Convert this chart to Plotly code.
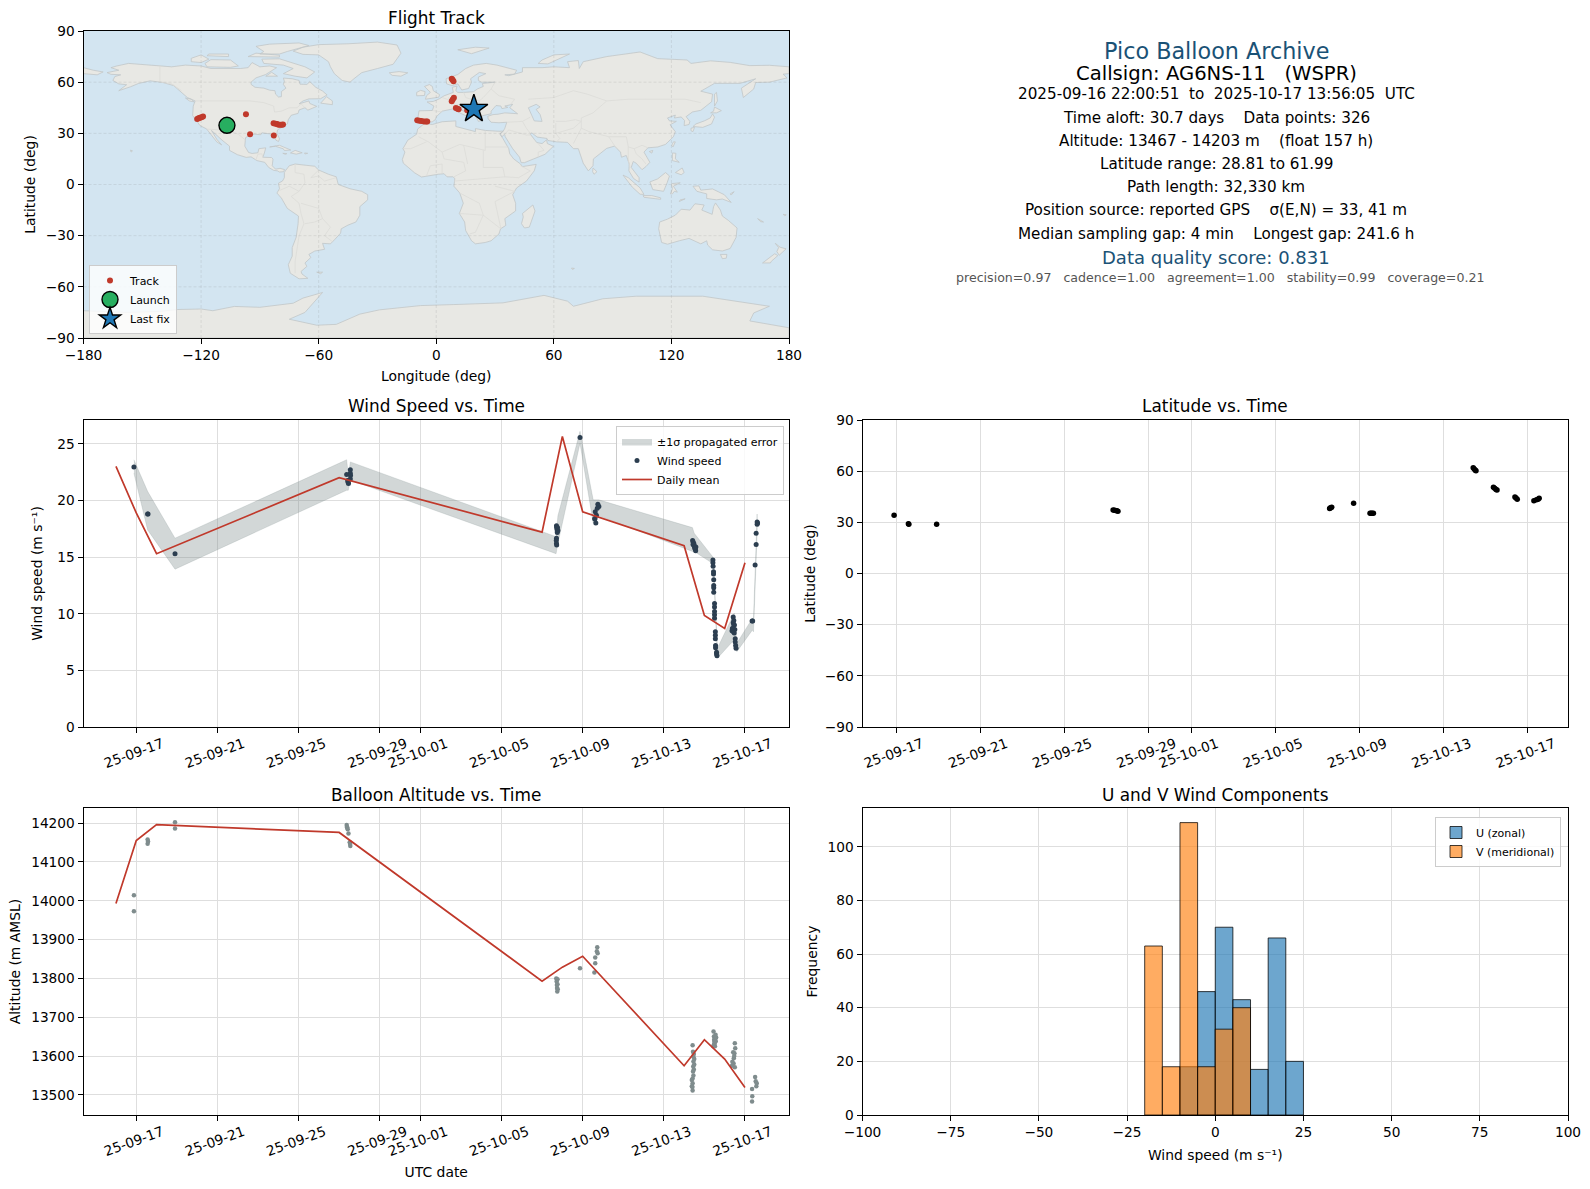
# Pico balloon flight summary, six panel figure
import pandas as pd
import plotly.graph_objects as go
from plotly.subplots import make_subplots

W, H = 1590, 1189
FONT = "DejaVu Sans"
RED = "#c0392b"
SLATE = "#2c3e50"
TITLE_BLUE = "#1a5276"

# ---- flight track (lon, lat)
track_lon = [-122, -121.3, -120.6, -119.8, -119, -97.1, -95, -82.9, -83, -82, -81.2, -80.5, -79.6, -78.8, -78.2,
             -9.7, -8.6, -7.5, -6.2, -5.2, -4.6, 7.9, 8.3, 8.8, 7.9, 8.4, 9, 10, 10.8, 11.4, 15.8, 16.6]
track_lat = [38.4, 38.8, 39.2, 39.5, 39.8, 41.2, 29.4, 28.8, 35.9, 35.6, 35.4, 35.1, 35, 35.1, 35.2,
             37.6, 37.4, 37.2, 37, 36.9, 36.9, 62, 61.4, 60.6, 48.8, 49.8, 50.8, 44.8, 44.4, 44.1, 43.5, 43.7]
launch_lon, launch_lat = [-106.8], [34.7]
last_lon, last_lat = [19.2], [44.3]

# ---- land outlines
north_america = [(-168, 65.6), (-164, 66.5), (-162, 67), (-166, 68.5), (-163, 69.5), (-157, 71), (-150, 70.5), (-141, 69.7),
                 (-135, 69), (-128, 70), (-120, 69.5), (-115, 68), (-108, 68), (-100, 68), (-96, 68.5), (-94, 71.5), (-90, 69),
                 (-85, 69.5), (-81.5, 68.5), (-85, 66), (-87, 64.5), (-92, 62.5), (-94.5, 60), (-94.5, 58.7), (-92.5, 57),
                 (-88, 56.5), (-85, 55.3), (-82.3, 55), (-82, 53), (-80.5, 51.3), (-79, 51.5), (-79, 54.5), (-76.7, 56.5),
                 (-78, 58.7), (-77.5, 60.5), (-78, 62.4), (-73.5, 62), (-70, 61), (-69.5, 58.8), (-66, 58.7), (-64.5, 60.3),
                 (-61.5, 57), (-58, 54.8), (-55.7, 52.5), (-59, 50.3), (-65, 50.2), (-68, 49), (-70, 47.3), (-65, 49),
                 (-64.5, 47.5), (-61, 45.8), (-65.5, 43.6), (-67, 45), (-70, 43.7), (-70.5, 41.7), (-74, 40.6), (-75.5, 38),
                 (-76, 35.5), (-78, 33.9), (-81, 32), (-81.3, 30), (-80, 26.8), (-80.5, 25.2), (-81.8, 26), (-83, 29),
                 (-85, 29.7), (-89, 30.3), (-89.5, 29.2), (-94, 29.6), (-97.3, 27.5), (-97.7, 22.5), (-95.8, 18.8), (-94, 18.2),
                 (-91, 18.6), (-90.5, 21), (-87, 21.5), (-87.7, 18.5), (-88.5, 16), (-84, 15.8), (-83.3, 14.9), (-83.7, 11),
                 (-82, 9), (-79.7, 9.5), (-77.3, 8.7), (-78, 7.5), (-80, 7.3), (-81, 8), (-83, 8.3), (-85.5, 10), (-87.5, 13),
                 (-91.5, 14), (-94.5, 16.2), (-97, 15.9), (-101.5, 17.5), (-105.5, 20), (-105.5, 22.5), (-109.3, 26),
                 (-112.5, 29.5), (-114.7, 31.7), (-112, 26.5), (-109.5, 23.2), (-112, 25), (-115, 29.5), (-117.2, 32.6),
                 (-120.5, 34.5), (-122.5, 37.8), (-124.3, 40.4), (-124, 46), (-123, 49), (-127, 51), (-130.5, 54.5), (-134, 58),
                 (-139.5, 59.8), (-146, 60.8), (-152, 59.2), (-156, 57.3), (-162, 55), (-158, 58.5), (-162, 59), (-165, 61),
                 (-164, 63.3), (-161, 64.3), (-166, 64.6)]
greenland = [(-73, 78.2), (-68, 80.5), (-60, 82), (-45, 82.5), (-30, 83.5), (-20, 81.8), (-18, 77), (-20, 74), (-22, 70.5),
             (-30, 68), (-38, 65.6), (-42, 62), (-44, 60), (-48, 61), (-52, 65), (-54, 69), (-55, 72), (-60, 76), (-68, 76.3)]
south_america = [(-77, 8), (-75, 11), (-72, 12), (-68, 11.5), (-62, 10.7), (-60, 8.5), (-55, 6), (-51, 4.5), (-50, 0), (-44, -2.5),
                 (-38, -4), (-35, -6), (-35, -9), (-39, -13), (-39, -18), (-41, -22), (-45, -23.8), (-48.5, -26), (-48.8, -28.5),
                 (-52, -32.5), (-54, -34.8), (-58, -34.5), (-57, -38), (-62, -39), (-65, -41), (-64, -42.8), (-67, -46), (-66, -48),
                 (-69, -51), (-68.5, -52.5), (-65.5, -55), (-70, -55.3), (-74.5, -52), (-75.5, -47), (-73.5, -42), (-73.5, -37),
                 (-71.5, -31), (-70.5, -23), (-70.3, -18.5), (-76, -14), (-79, -8), (-81.3, -5), (-80, -2.5), (-80.5, 0.8),
                 (-78.5, 2), (-77.5, 4), (-77.5, 7)]
africa = [(-6, 35.8), (-2, 35.2), (3, 36.8), (10, 37.3), (10, 34), (15, 32.3), (20, 31), (20, 32.8), (25, 31.7), (32, 31.2),
          (34.2, 31.3), (32.5, 29.5), (34, 27), (37, 21), (37.5, 18), (39.5, 15), (43, 12), (44, 10.5), (51, 11.8), (50, 8), (46, 2),
          (41, -2), (39, -6), (40.5, -11), (40.5, -15.5), (35, -20), (35.5, -24), (32.8, -26), (32, -29), (28, -33), (25, -34),
          (20, -34.8), (18, -33), (15, -27), (14.5, -22), (11.8, -17), (13.8, -11), (12, -5), (9, -1), (9.5, 3.5), (8.5, 4.5),
          (5.5, 4.5), (4, 6.3), (1, 6), (-4, 5.2), (-7.5, 4.4), (-11, 6.8), (-13.5, 9.5), (-16.8, 12.5), (-17.3, 14.7), (-16, 19),
          (-17, 21), (-14.5, 26), (-10, 29.5), (-9.5, 32.5)]
eurasia = [(-9, 37), (-9.4, 38.8), (-8.8, 43.2), (-2, 43.4), (-1.2, 46), (-4.7, 48.4), (-1.5, 48.7), (1.5, 50.2), (4, 52), (7, 53.5),
           (8.7, 54), (8.2, 57), (10.6, 57.7), (10, 55), (11, 54), (14, 54), (19, 54.4), (21, 56), (24, 57.5), (23.5, 59.2), (30, 60),
           (23, 60), (21.5, 61), (21.5, 63), (25.3, 65), (22, 65.7), (17.5, 62), (18, 60), (16.5, 56.3), (13, 55.4), (11, 59), (8, 58),
           (5.3, 59), (5, 62), (11, 64.5), (15, 68), (19, 70), (25.5, 71), (31, 70), (41, 67), (40, 64.7), (35, 64.3), (37, 63.8),
           (44, 66), (44, 68.5), (54, 68.5), (60, 69), (68, 68.5), (67, 72), (72.5, 72.7), (73, 68), (75, 72), (81, 73.5), (87, 75),
           (104, 77.7), (113, 73.8), (128, 73), (130, 71), (140, 72.5), (150, 71.6), (160, 69.7), (170, 69.9), (180, 69), (180, 65),
           (177, 64.7), (179, 62.5), (170, 60), (163, 59.8), (162, 56), (156.7, 51), (155.7, 56.5), (163, 62), (155, 59.3), (142, 59.3),
           (135, 54.7), (141, 53), (140.5, 48.5), (135, 43.5), (130.7, 42.5), (127.5, 39.8), (129.4, 37), (129, 35.2), (126.5, 34.5),
           (126.7, 37.5), (125, 39.6), (121.5, 39), (122, 40.7), (118, 39), (119, 37.3), (122.5, 37), (119.3, 35), (122, 31), (121, 28),
           (117, 23.5), (113, 22), (108, 21.5), (106, 19), (109, 13), (107, 10.5), (105, 8.7), (102, 12.5), (100.5, 13.5), (99.5, 10),
           (103.5, 4), (103.5, 1.4), (100.7, 3.5), (98.3, 8), (98.5, 12), (97, 17), (94.5, 16), (94, 19), (91, 22.5), (87, 21.2),
           (80.2, 15), (80, 11), (77.6, 8), (75, 12.5), (72.8, 19), (72.5, 21), (70, 21), (67, 24.7), (61.5, 25), (57, 25.8), (56.5, 27),
           (51.5, 27.8), (48.7, 30.3), (48, 29.5), (50, 26.5), (51.3, 24.6), (54, 24), (56.3, 26.2), (56.7, 24), (59.8, 22.4),
           (55.5, 17.7), (52, 16), (45, 12.8), (43.3, 12.8), (42.5, 16), (39, 21), (35.2, 28), (34.9, 29.5), (33.5, 28), (32.6, 29.9),
           (34.2, 31.3), (35, 33), (36, 36.5), (32, 36.2), (28, 36.5), (26.5, 38.5), (26.3, 40), (29, 41), (31.5, 41.2), (35, 42),
           (41.5, 41.5), (37.5, 45), (39, 47), (35, 46), (36.5, 45.2), (33.5, 44.5), (33, 46), (30.5, 46.3), (28, 43), (28, 41.5),
           (26, 40.8), (23.5, 40.3), (23, 37.5), (21.5, 37), (19.4, 41.5), (19, 42.4), (14, 45.2), (12.3, 45.3), (12.5, 44), (16, 41.8),
           (18.5, 40), (16.7, 39.8), (16, 38), (15.8, 40), (12.3, 41.8), (8.8, 44.4), (5, 43.3), (3, 43), (0.2, 39.9), (-0.5, 38),
           (-2, 36.8), (-5.5, 36), (-7, 37)]
australia = [(114, -22), (113.5, -26), (115, -34), (118, -35), (124, -33), (129, -31.6), (135, -34.8), (138, -33), (138.5, -35.5),
             (141, -38.3), (146, -39), (150, -37.5), (153, -31), (153.5, -25.5), (149, -21), (146, -18.5), (145, -15), (142.5, -10.8),
             (141.5, -13), (140.8, -17.5), (135.5, -15), (136.7, -12), (132, -11.3), (129.5, -15), (125, -14.5), (122, -18), (118, -20.3)]
antarctica = [(-180, -74), (-158, -75), (-141, -74.4), (-132, -73.3), (-120, -73), (-114, -74), (-103, -71.5), (-90, -72), (-73, -69.6),
              (-68, -66.6), (-58, -63.3), (-67, -75), (-75, -79), (-61, -82.5), (-51, -82), (-39, -76), (-29, -73.5), (-13, -71.5),
              (-8, -71), (9, -70.4), (34, -69.4), (55, -65), (67, -68.4), (70, -71.4), (85, -67), (102, -65.5), (136, -65.5), (170, -71.4),
              (162, -75.3), (160, -80), (178, -84), (180, -84), (180, -90), (-180, -90)]
islands = [
    [(-180, 68.5), (-175, 67), (-170, 66), (-173, 64.3), (-180, 65)],
    [(-62, 66), (-66, 62.5), (-72, 63.5), (-78, 65), (-73, 68), (-78, 70), (-88, 71), (-89, 73.5), (-80, 73.7), (-72, 71), (-67, 69)],
    [(-117, 69), (-105, 68.7), (-101, 69.5), (-105, 73), (-115, 73.2), (-118, 71)],
    [(-90, 76.5), (-80, 76.5), (-76, 78), (-65, 81.5), (-70, 83), (-85, 82.3), (-92, 81), (-88, 78)],
    [(-125, 72), (-120, 71.5), (-116, 73.5), (-120, 76), (-125, 74)],
    [(-96, 75), (-80, 74.7), (-80, 75.8), (-92, 77)],
    [(-117, 75.5), (-106, 75), (-106, 76.5), (-116, 76.5)],
    [(-87, 63.5), (-81, 63.5), (-84, 65.8)],
    [(-59, 47.7), (-53, 46.8), (-53, 49), (-56, 51.5)],
    [(-128, 50.7), (-125, 50), (-123.5, 48.4), (-126, 49)],
    [(-85, 22), (-80, 23), (-74.2, 20.2), (-77.5, 19.9), (-78, 20.9), (-82, 22.4)],
    [(-74.4, 18.5), (-72, 20), (-68.4, 18.6), (-71.5, 17.8)],
    [(-78.3, 18.3), (-76.2, 18.1), (-77, 17.7)],
    [(-67.2, 18.5), (-65.6, 18.3), (-67, 17.9)],
    [(-156, 20.2), (-155, 19.7), (-155.7, 19)],
    [(-61, -51.4), (-58, -51.4), (-59, -52.3)],
    [(49.3, -12), (50.4, -15.5), (47.5, -25), (45, -25.5), (43.5, -23), (44.4, -19), (44, -17), (48, -13.5)],
    [(-5.5, 50), (1.3, 51.2), (1.7, 52.7), (-1.5, 55), (-2, 57.5), (-3.5, 58.6), (-6, 57.5), (-3, 54), (-5, 52)],
    [(-10, 52), (-6, 52.2), (-5.7, 54.5), (-8, 55.2), (-10, 54)],
    [(-24, 65.5), (-19, 66.2), (-14.5, 65.5), (-18, 63.5), (-22.5, 64)],
    [(11, 79), (20, 80.5), (27, 80), (18, 76.7)],
    [(52, 71), (57, 70.7), (68, 76.5), (60, 76), (54, 73)],
    [(131, 34), (136, 33.5), (140.5, 35.5), (142, 39.5), (141, 41.4), (139.8, 39), (136.8, 37.3), (132.5, 35.5)],
    [(140, 42), (143, 42), (145.5, 43.3), (142, 45.4), (141.5, 43)],
    [(130, 33), (131.8, 33.5), (131, 31), (130, 31.5)],
    [(142, 46), (143.5, 49), (143, 54), (142, 53), (142, 48)],
    [(120.2, 23), (121, 25), (122, 25), (120.8, 22)],
    [(108.7, 19.3), (110.5, 20), (110, 18.4)],
    [(80, 9.7), (82, 7.5), (80.5, 6), (79.8, 7.5)],
    [(120.5, 18.5), (122.3, 18.3), (122, 15), (124, 13), (120.5, 14)],
    [(122, 7), (125.5, 9.7), (126.5, 7), (125, 5.7)],
    [(109, 1.5), (113, 3.3), (117, 7), (119, 5), (117.8, 1), (116, -4), (110.5, -3)],
    [(95.3, 5.5), (98, 4), (104, -2), (106, -5.8), (104, -5.7), (100, -1.5)],
    [(105.5, -6.5), (110, -6.5), (114.5, -7.8), (114.5, -8.7), (106, -7.5)],
    [(119.5, -5.5), (120.5, -2.5), (120, 0.5), (124.5, 1), (121, -1), (123, -4.5), (121.5, -4), (120.5, -5.5)],
    [(131, -1), (134, -0.8), (135, -3.3), (141, -2.6), (147, -6), (150.5, -10.5), (146, -8.5), (143, -9), (138, -8.2), (138, -5.5), (133, -4)],
    [(124, -10), (127, -8.4), (124.5, -9)],
    [(150, -5.5), (152, -4.2), (150.5, -6.2)],
    [(145, -41), (148.3, -41), (148, -43.2), (146, -43.5)],
    [(173, -34.5), (175.5, -36.8), (178.5, -37.7), (176.5, -40), (175, -41.5), (173.8, -39.3), (174.7, -37)],
    [(172.7, -40.6), (174.3, -41.7), (171, -45), (170.5, -46), (166.5, -46), (170, -43)],
    [(164, -20), (167, -22), (165.5, -21.8)],
    [(177, -17.5), (178.6, -17.8), (177.8, -18.3)],
    [(69, -49), (70.5, -49.2), (69.5, -49.8)],
]
land_outlines = [north_america, greenland, south_america, africa, eurasia, australia, antarctica] + islands
caspian = [(47, 45), (51, 47), (53, 45.5), (51, 44), (53, 41), (54, 37), (50, 37.3), (49, 40), (47.5, 43)]
borders = [
    [(-123, 49), (-95, 49), (-88, 48), (-83, 46), (-82.5, 42.5), (-79, 43), (-75, 45), (-71, 45), (-69, 47.3), (-67, 45)],
    [(-141, 69.7), (-141, 60.2), (-135, 59), (-130, 55)],
    [(-117, 32.5), (-108, 31.5), (-106.5, 31.7), (-101, 29.5), (-97.3, 26)],
    [(-92, 14.5), (-91, 17.8), (-89, 18), (-88.5, 16)],
    [(-72, 12), (-72, 7), (-67.5, 6), (-67, 1), (-70, -4), (-74, -7), (-70, -11), (-69, -17), (-67.5, -23), (-70, -30), (-72, -45), (-72, -52)],
    [(-60, 8.5), (-64, 4), (-60, 5), (-57, 2), (-51, 4)],
    [(-58, -20), (-54, -25), (-57, -30), (-53, -33.5)],
    [(-69, -11), (-60, -14), (-58, -20), (-62, -22), (-67, -23)],
    [(-80, -3.5), (-75, -1), (-70, -4)],
    [(-9, 28), (-4, 25), (3, 19), (12, 23.5), (25, 20), (25, 31.5)],
    [(25, 22), (37, 22)],
    [(-17, 21), (-13, 21), (-5, 25)],
    [(3, 19), (4, 15), (14, 13), (15, 8), (9, 4.5)],
    [(14, 23), (16, 12)],
    [(24, 20), (24, 10), (34, 10), (35, 4.5), (42, 4), (48, 8), (43, 11)],
    [(9, 2), (18, 3), (30, 4), (35, 4.5)],
    [(12, -5), (22, -11), (24, -18), (12, -17)],
    [(30, -1), (40, -4), (30, -10), (33, -26), (24, -18), (20, -28), (17, -29)],
    [(-5, 5), (-3, 11), (3, 12), (3, 6.5)],
    [(30, 60), (28, 56), (24, 51), (22, 49), (19, 49.5), (15, 51), (14, 54)],
    [(6, 51), (8, 49), (7, 47.5), (10, 47), (14, 46.5), (22, 48)],
    [(-1.5, 43.3), (3, 42.5)],
    [(3, 51), (8, 49)],
    [(28, 56), (32, 52), (40, 50), (38, 47)],
    [(47, 50), (60, 51), (70, 55), (77, 53), (87, 49), (98, 50), (107, 50), (118, 50), (127, 50), (135, 48)],
    [(87, 49), (80, 42), (74, 39), (74, 33), (78, 31), (88, 28), (97, 28), (98, 22), (101, 21), (105, 23), (108, 21.5)],
    [(61, 37), (66, 37), (71, 38), (74, 37)],
    [(61, 36), (61, 30), (63, 27), (61.5, 25)],
    [(61, 30), (70, 33), (74, 37)],
    [(74, 33), (70, 24)],
    [(44, 37), (48, 39.5)],
    [(44, 37), (46, 33), (48, 30)],
    [(36, 36.5), (42, 37), (44, 37)],
    [(35, 29.5), (37, 32), (46, 29), (48, 29)],
    [(52, 24), (55, 20), (52, 19), (52, 16)],
    [(92, 21), (89, 26), (88, 28)],
    [(98, 22), (98, 14), (99, 10)],
    [(101, 21), (102, 18), (105, 15), (107, 12)],
]

# ---- time series, days counted from 2025-09-17 00:00
TIME_ZERO = "2025-09-17"
wind_days = [-0.115, 0.56, 0.58, 1.91, 10.37, 10.55, 10.55, 10.56, 10.55, 10.42, 10.44, 10.46,
             20.71, 20.72, 20.74, 20.75, 20.75, 20.71, 20.7, 20.71, 20.72, 20.76, 20.78, 21.87,
             22.62, 22.68, 22.6, 22.6, 22.65, 22.75, 22.8, 22.72,
             27.42, 27.45, 27.47, 27.5, 27.52, 27.55, 27.57, 27.48, 27.53, 27.44, 27.58,
             28.42, 28.42, 28.43, 28.45, 28.45, 28.46, 28.46, 28.46, 28.46, 28.5, 28.5, 28.5, 28.5, 28.5,
             28.54, 28.54, 28.54, 28.55, 28.55, 28.6, 28.6, 28.62,
             29.42, 29.45, 29.42, 29.45, 29.4, 29.43, 29.47, 29.52, 29.52, 29.54, 29.56, 29.5, 29.48, 29.36, 29.38,
             30.35, 30.38, 30.5, 30.55, 30.55, 30.6, 30.6, 30.62]
wind_speed = [22.95, 18.8, 18.8, 15.3, 22.3, 22.7, 22.4, 22.2, 21.9, 21.75, 21.6, 21.5,
              17.76, 17.6, 17.46, 17.3, 17.17, 16.67, 16.46, 16.2, 16.07, 17.6, 17.35, 25.56,
              19, 18.7, 18.35, 18.4, 18, 19.66, 19.46, 19.3,
              16.46, 16.3, 16.14, 16, 15.87, 15.7, 15.55, 16.2, 15.8, 16.1, 15.9,
              14.75, 14.5, 14.2, 13.7, 13.5, 13, 12.5, 12.3, 11.9, 10.9, 10.6, 10.2, 9.9, 9.6,
              8.4, 8.1, 7.8, 7.2, 7, 6.6, 6.45, 6.3,
              9.7, 9.4, 9.2, 9, 8.7, 8.4, 8.3, 7.8, 7.5, 7.2, 6.95, 8.6, 9, 8.5, 8.7,
              9.36, 9.36, 14.3, 16.1, 17.1, 17.9, 18.1, 18.0]

# ±1 sigma envelope along the track
band_days = [-0.115, 0.56, 1.91, 10.37, 10.45, 10.55, 20.69, 20.78, 21.87, 22.52, 22.8, 27.41, 27.5, 28.4, 28.45, 28.64, 29.47, 29.6, 30.37, 30.42, 30.6]
band_hi = [23.59, 20.8, 16.67, 23.59, 22.2, 23.4, 16.8, 18.64, 26.1, 20.05, 20.05, 17.6, 17.1, 15.05, 14.6, 6.95, 10.04, 7.4, 9.6, 9.6, 18.8]
band_lo = [22.4, 17.4, 13.93, 20.9, 20.9, 21.8, 15.3, 16.2, 25.05, 18, 18.64, 15.5, 15.5, 14.45, 14, 6.07, 7.7, 6.65, 8.57, 8.4, 17.1]

daily_dates = ["2025-09-16", "2025-09-17", "2025-09-18", "2025-09-27", "2025-10-07", "2025-10-08", "2025-10-09",
               "2025-10-14", "2025-10-15", "2025-10-16", "2025-10-17"]
daily_wind = [23.0, 18.9, 15.3, 22.0, 17.2, 25.65, 19.0, 16.0, 9.85, 8.7, 14.5]
daily_alt = [13993, 14155, 14196, 14176, 13793, 13829, 13857, 13575, 13642, 13592, 13519]

alt_days = [-0.115, -0.115, 0.56, 0.56, 0.58, 1.91, 1.91, 10.37, 10.38, 10.4, 10.42, 10.46, 10.52, 10.55, 10.54,
            20.7, 20.72, 20.73, 20.74, 20.75, 20.76, 20.76, 20.77, 21.87, 22.62, 22.62, 22.58, 22.72, 22.7, 22.74,
            27.42, 27.44, 27.46, 27.46, 27.45, 27.44, 27.42, 27.42, 27.41, 27.42,
            27.48, 27.5, 27.5, 27.48, 27.46, 27.38, 27.38,
            28.45, 28.47, 28.48, 28.5, 28.52, 28.55, 28.53, 28.5, 28.48, 28.58, 28.56, 28.44,
            29.5, 29.52, 29.48, 29.45, 29.44, 29.5, 29.38, 29.36, 29.42, 29.47,
            30.35, 30.36, 30.35, 30.5, 30.53, 30.56, 30.58]
alt_m = [14014, 13973, 14158, 14147, 14153, 14202, 14186, 14195, 14190, 14189, 14184, 14173, 14151, 14141, 14146,
         13800, 13792, 13783, 13775, 13766, 13798, 13785, 13772, 13826, 13854, 13839, 13815, 13880, 13870, 13865,
         13628, 13611, 13598, 13586, 13573, 13560, 13542, 13530, 13520, 13511,
         13605, 13592, 13578, 13565, 13550, 13538, 13522,
         13663, 13650, 13642, 13633, 13625, 13655, 13645, 13638, 13630, 13648, 13638, 13625,
         13633, 13620, 13607, 13594, 13581, 13571, 13585, 13575, 13610, 13600,
         13515, 13496, 13483, 13546, 13535, 13522, 13530]

lat_days = [-0.1, 0.58, 0.6, 1.92, 10.3, 10.36, 10.42, 10.48, 10.53, 20.58, 20.62, 20.68, 21.72, 22.5, 22.55, 22.6, 22.66,
            27.4, 27.45, 27.5, 27.53, 28.36, 28.42, 28.48, 28.53, 29.38, 29.43, 29.49, 30.28, 30.4, 30.48, 30.53]
lat_deg = [34.1, 29.2, 28.9, 28.81, 37.2, 37.1, 37, 36.8, 36.5, 38.1, 38.5, 38.8, 41.2, 35.3, 35.3, 35.3, 35.3,
           61.99, 61.3, 60.6, 60.2, 50.6, 50, 49.3, 48.9, 44.8, 44.3, 43.6, 42.7, 43.2, 43.6, 44.1]

# ---- histogram, left bin edges in m/s and counts
u_edges = [-10, -5, 0, 5, 10, 15, 20]
u_counts = [18, 46, 70, 43, 17, 66, 20]
v_edges = [-20, -15, -10, -5, 0, 5]
v_counts = [63, 18, 109, 18, 32, 40]

# ---- axis ticks
date_ticks = ["2025-09-17", "2025-09-21", "2025-09-25", "2025-09-29", "2025-10-01", "2025-10-05", "2025-10-09", "2025-10-13", "2025-10-17"]
date_labels = ["25-09-17", "25-09-21", "25-09-25", "25-09-29", "25-10-01", "25-10-05", "25-10-09", "25-10-13", "25-10-17"]
lon_ticks = [-180, -120, -60, 0, 60, 120, 180]
lat_ticks = [-90, -60, -30, 0, 30, 60, 90]

# ---- text panel: text, centre x, centre y, size, colour
info_lines = [
    ("Pico Balloon Archive", 1216, 50.8, 22.3, TITLE_BLUE),
    ("Callsign: AG6NS-11   (WSPR)", 1216, 73, 19.6, "black"),
    ("2025-09-16 22:00:51  to  2025-10-17 13:56:05  UTC", 1216, 94.4, 15.2, "black"),
    ("Time aloft: 30.7 days    Data points: 326", 1216, 117.8, 15.2, "black"),
    ("Altitude: 13467 - 14203 m    (float 157 h)", 1216, 141, 15.2, "black"),
    ("Latitude range: 28.81 to 61.99", 1216, 163.5, 15.2, "black"),
    ("Path length: 32,330 km", 1216, 186.8, 15.2, "black"),
    ("Position source: reported GPS    σ(E,N) = 33, 41 m", 1216, 210, 15.2, "black"),
    ("Median sampling gap: 4 min    Longest gap: 241.6 h", 1216, 233.5, 15.2, "black"),
    ("Data quality score: 0.831", 1216, 257.9, 18, TITLE_BLUE),
    ("precision=0.97   cadence=1.00   agreement=1.00   stability=0.99   coverage=0.21", 1220, 278, 12.6, "#555555"),
]


def day_to_time(days):
    return pd.Timestamp(TIME_ZERO) + pd.to_timedelta(days, unit="D")


def join_paths(paths):
    xs, ys = [], []
    for path in paths:
        xs += [p[0] for p in path] + [path[0][0], None]
        ys += [p[1] for p in path] + [path[0][1], None]
    return xs, ys


def join_open(paths):
    xs, ys = [], []
    for path in paths:
        xs += [p[0] for p in path] + [None]
        ys += [p[1] for p in path] + [None]
    return xs, ys


fig = make_subplots(
    rows=3, cols=2,
    specs=[[{}, None], [{}, {}], [{}, {}]],
)
# row, col -> pixel box of each axes (left, right, top, bottom)
boxes = {
    (1, 1): (83.5, 789, 31, 338),
    (2, 1): (83.5, 789, 420, 727),
    (2, 2): (862.5, 1568, 420, 727),
    (3, 1): (83.5, 789, 808, 1115),
    (3, 2): (862.5, 1568, 808, 1115),
}
for (row, col), (left, right, top, bottom) in boxes.items():
    fig.update_xaxes(domain=[left / W, right / W], row=row, col=col)
    fig.update_yaxes(domain=[1 - bottom / H, 1 - top / H], row=row, col=col)

axis_style = dict(showline=True, mirror=True, linecolor="black", linewidth=1, ticks="outside", ticklen=5, tickcolor="black",
                  showgrid=True, gridcolor="#dedede", gridwidth=1, zeroline=False, automargin=False,
                  tickfont=dict(size=13.7), title_font=dict(size=13.9))
fig.update_xaxes(**axis_style)
fig.update_yaxes(**axis_style)

# map panel
land_x, land_y = join_paths(land_outlines)
fig.add_trace(go.Scatter(x=land_x, y=land_y, mode="lines", fill="toself", fillcolor="#e8e8e4",
                         line=dict(color="#c2c6c8", width=0.8), hoverinfo="skip", showlegend=False), row=1, col=1)
sea_x, sea_y = join_paths([caspian])
fig.add_trace(go.Scatter(x=sea_x, y=sea_y, mode="lines", fill="toself", fillcolor="#d3e5f1",
                         line=dict(color="#c2c6c8", width=0.8), hoverinfo="skip", showlegend=False), row=1, col=1)
border_x, border_y = join_open(borders)
fig.add_trace(go.Scatter(x=border_x, y=border_y, mode="lines", line=dict(color="#dcdcd8", width=0.8),
                         hoverinfo="skip", showlegend=False), row=1, col=1)
grid_x, grid_y = join_open([[(v, -90), (v, 90)] for v in lon_ticks[1:-1]] + [[(-180, v), (180, v)] for v in lat_ticks[1:-1]])
fig.add_trace(go.Scatter(x=grid_x, y=grid_y, mode="lines", line=dict(color="rgba(120,120,120,0.2)", width=0.8, dash="3px,2px"),
                         hoverinfo="skip", showlegend=False), row=1, col=1)
fig.add_trace(go.Scatter(x=track_lon, y=track_lat, mode="markers", name="Track", legend="legend",
                         marker=dict(color=RED, size=6)), row=1, col=1)
fig.add_trace(go.Scatter(x=launch_lon, y=launch_lat, mode="markers", name="Launch", legend="legend",
                         marker=dict(color="#27ae60", size=16, line=dict(color="black", width=1.4))), row=1, col=1)
fig.add_trace(go.Scatter(x=last_lon, y=last_lat, mode="markers", name="Last fix", legend="legend",
                         marker=dict(color="#1f77b4", size=21, symbol="star", line=dict(color="black", width=1.4))), row=1, col=1)
fig.update_xaxes(range=[-180, 180], tickvals=lon_ticks, showgrid=False, title_text="Longitude (deg)", title_standoff=8, row=1, col=1)
fig.update_yaxes(range=[-90, 90], tickvals=lat_ticks, showgrid=False, title_text="Latitude (deg)", title_standoff=7, row=1, col=1)

# wind speed panel
band_time = day_to_time(band_days)
fig.add_trace(go.Scatter(x=list(band_time) + list(band_time[::-1]), y=band_hi + band_lo[::-1], mode="lines", fill="toself",
                         fillcolor="rgba(127,140,141,0.35)", line=dict(color="rgba(127,140,141,0.2)", width=1),
                         name="±1σ propagated error", legend="legend2"), row=2, col=1)
fig.add_trace(go.Scatter(x=day_to_time(wind_days), y=wind_speed, mode="markers", name="Wind speed", legend="legend2",
                         marker=dict(color=SLATE, size=5)), row=2, col=1)
fig.add_trace(go.Scatter(x=daily_dates, y=daily_wind, mode="lines", name="Daily mean", legend="legend2",
                         line=dict(color=RED, width=1.7)), row=2, col=1)
fig.update_yaxes(range=[0, 27.1], tickvals=[0, 5, 10, 15, 20, 25], title_text="Wind speed (m s⁻¹)", title_standoff=11, row=2, col=1)

# latitude panel
fig.add_trace(go.Scatter(x=day_to_time(lat_days), y=lat_deg, mode="markers", showlegend=False,
                         marker=dict(color="black", size=5.5)), row=2, col=2)
fig.update_yaxes(range=[-90, 90], tickvals=lat_ticks, title_text="Latitude (deg)", title_standoff=6, row=2, col=2)

# altitude panel
fig.add_trace(go.Scatter(x=day_to_time(alt_days), y=alt_m, mode="markers", showlegend=False,
                         marker=dict(color="#7f8c8d", size=4.5)), row=3, col=1)
fig.add_trace(go.Scatter(x=daily_dates, y=daily_alt, mode="lines", showlegend=False,
                         line=dict(color=RED, width=1.7)), row=3, col=1)
fig.update_yaxes(range=[13448, 14239], tickvals=list(range(13500, 14300, 100)), tickformat="d",
                 title_text="Altitude (m AMSL)", title_standoff=7, row=3, col=1)

# shared date axes
left_range = [day_to_time(-2.6), day_to_time(32.17)]
right_range = [day_to_time(-1.6), day_to_time(31.9)]
for row, col, rng in [(2, 1, left_range), (2, 2, right_range), (3, 1, left_range)]:
    fig.update_xaxes(type="date", range=rng, tickvals=date_ticks, ticktext=date_labels, tickangle=-20, ticklabelshift=26,
                     ticklabelstandoff=-2, row=row, col=col)
fig.update_xaxes(title_text="UTC date", title_standoff=9, row=3, col=1)

# histogram panel
fig.add_trace(go.Bar(x=u_edges, y=u_counts, width=5, offset=0, name="U (zonal)", legend="legend3",
                     marker=dict(color="rgba(31,119,180,0.65)", line=dict(color="rgba(0,0,0,0.75)", width=1))), row=3, col=2)
fig.add_trace(go.Bar(x=v_edges, y=v_counts, width=5, offset=0, name="V (meridional)", legend="legend3",
                     marker=dict(color="rgba(255,127,14,0.65)", line=dict(color="rgba(0,0,0,0.75)", width=1))), row=3, col=2)
fig.update_xaxes(range=[-100, 100], tickvals=list(range(-100, 101, 25)), title_text="Wind speed (m s⁻¹)", title_standoff=10, row=3, col=2)
fig.update_yaxes(range=[0, 114.45], tickvals=list(range(0, 101, 20)), title_text="Frequency", title_standoff=6, row=3, col=2)

# panel titles, the gap above the axes differs by a pixel or two
panel_titles = {
    (1, 1): ("Flight Track", 0.5),
    (2, 1): ("Wind Speed vs. Time", 2),
    (2, 2): ("Latitude vs. Time", 2),
    (3, 1): ("Balloon Altitude vs. Time", 1),
    (3, 2): ("U and V Wind Components", 1),
}
for key, (text, gap) in panel_titles.items():
    left, right, top, bottom = boxes[key]
    fig.add_annotation(text=text, xref="paper", yref="paper", x=(left + right) / 2 / W, y=1 - (top - gap) / H,
                       xanchor="center", yanchor="bottom", showarrow=False, font=dict(size=16.9))

for text, xpx, ypx, size, color in info_lines:
    fig.add_annotation(text=text, xref="paper", yref="paper", x=xpx / W, y=1 - ypx / H, xanchor="center", yanchor="middle",
                       showarrow=False, font=dict(size=size, color=color))

legend_style = dict(bgcolor="rgba(255,255,255,0.8)", bordercolor="#cccccc", borderwidth=1, font=dict(size=11), tracegroupgap=0)
fig.update_layout(
    width=W, height=H, margin=dict(l=0, r=0, t=0, b=0), autosize=False,
    font=dict(family=FONT, color="black"),
    paper_bgcolor="white", plot_bgcolor="white",
    barmode="overlay",
    legend=dict(x=89 / W, y=1 - 334 / H, xanchor="left", yanchor="bottom", **legend_style),
    legend2=dict(x=784 / W, y=1 - 426 / H, xanchor="right", yanchor="top", **legend_style),
    legend3=dict(x=1561 / W, y=1 - 817 / H, xanchor="right", yanchor="top", **legend_style),
)
fig.add_shape(type="rect", xref="x domain", yref="y domain", x0=0, x1=1, y0=0, y1=1, fillcolor="#d3e5f1",
              line_width=0, layer="below")

# the page body has an 8px margin by default, drop it so the figure fills the window
fig.write_html("out.html", config={"displayModeBar": False}, post_script="document.body.style.margin='0';")
